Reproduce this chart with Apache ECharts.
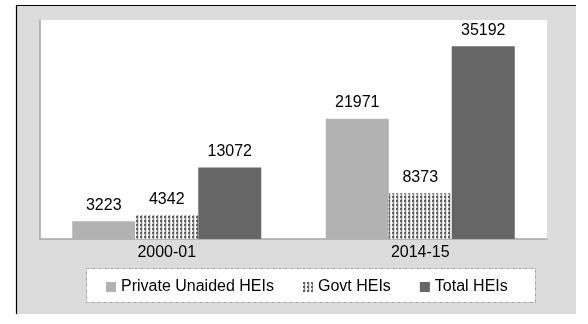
<!DOCTYPE html>
<html>
<head>
<meta charset="utf-8">
<script src="https://cdn.jsdelivr.net/npm/echarts@6/dist/echarts.min.js"></script>
<style>
  html, body { margin: 0; padding: 0; background: #fff; }
  #chart { width: 588px; height: 324px; }
</style>
</head>
<body>
<div id="chart"></div>
<script>
// data
const years = ["2000-01", "2014-15"];
const seriesNames = ["Private Unaided HEIs", "Govt HEIs", "Total HEIs"];
const privateUnaided = [3223, 21971];
const govt = [4342, 8373];
const total = [13072, 35192];

// small dotted tile for the Govt bars
function dotPattern() {
  const c = document.createElement("canvas");
  c.width = 4;
  c.height = 4;
  const ctx = c.getContext("2d");
  ctx.fillStyle = "#dcdcdc";
  ctx.fillRect(0, 0, 4, 4);
  ctx.fillStyle = "#5e5e5e";
  ctx.fillRect(0, 0, 2, 2);
  ctx.fillStyle = "#8c8c8c";
  ctx.fillRect(1, 2, 1, 2);
  ctx.fillStyle = "#ffffff";
  ctx.fillRect(3, 0, 1, 4);
  return { image: c, repeat: "repeat" };
}

const chart = echarts.init(document.getElementById("chart"), null, { renderer: "canvas" });
const fontFamily = "Arial, 'Liberation Sans', sans-serif";
const labelStyle = {
  show: true,
  position: "top",
  distance: 8,
  color: "#000",
  fontSize: 16,
  fontFamily: fontFamily
};

const option = {
  animation: false,
  backgroundColor: "#fff",
  graphic: [
    // grey frame with black top / left edges
    { type: "rect", shape: { x: 16, y: 5, width: 560, height: 309 }, style: { fill: "#dcdcdc" }, z: -10 },
    { type: "line", shape: { x1: 16, y1: 5.5, x2: 576, y2: 5.5 }, style: { stroke: "#000", lineWidth: 1.2 }, z: -9 },
    { type: "line", shape: { x1: 16.5, y1: 5, x2: 16.5, y2: 314 }, style: { stroke: "#000", lineWidth: 1.2 }, z: -9 },
    // legend box
    {
      type: "rect",
      shape: { x: 86.5, y: 268.5, width: 449, height: 34 },
      style: { fill: "#fff", stroke: "#a0a0a0", lineWidth: 1, lineDash: [3, 1, 1, 1] },
      z: -5
    }
  ],
  grid: {
    left: 40,
    right: 41,
    top: 20,
    bottom: 85,
    show: true,
    backgroundColor: "#fff",
    borderWidth: 0
  },
  legend: {
    data: seriesNames,
    left: 101,
    top: 274,
    itemWidth: 10,
    itemHeight: 10,
    itemGap: 29,
    icon: "rect",
    textStyle: { fontSize: 16, color: "#000", fontFamily: fontFamily }
  },
  xAxis: {
    type: "category",
    data: years,
    axisLine: { show: true, lineStyle: { color: "#a6a6a6", width: 1.5 } },
    axisTick: { show: false },
    axisLabel: { color: "#000", fontSize: 16, fontFamily: fontFamily, margin: 6 }
  },
  yAxis: {
    type: "value",
    min: 0,
    max: 40000,
    axisLine: { show: true, lineStyle: { color: "#a6a6a6", width: 1.5 } },
    axisTick: { show: false },
    axisLabel: { show: false },
    splitLine: { show: false }
  },
  series: [
    {
      name: seriesNames[0],
      type: "bar",
      data: privateUnaided,
      barWidth: 63,
      barGap: "0%",
      itemStyle: { color: "#b2b2b2" },
      label: labelStyle
    },
    {
      name: seriesNames[1],
      type: "bar",
      data: govt,
      barWidth: 63,
      barGap: "0%",
      itemStyle: { color: dotPattern() },
      label: labelStyle
    },
    {
      name: seriesNames[2],
      type: "bar",
      data: total,
      barWidth: 63,
      barGap: "0%",
      itemStyle: { color: "#666666" },
      label: labelStyle
    }
  ]
};

chart.setOption(option);
</script>
</body>
</html>
